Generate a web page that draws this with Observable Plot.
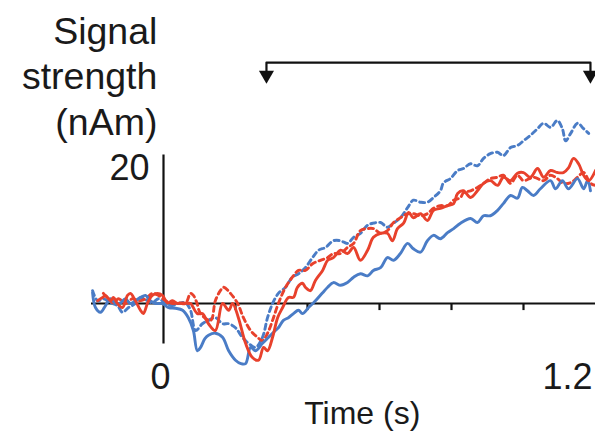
<!DOCTYPE html>
<html>
<head>
<meta charset="utf-8">
<script src="https://cdn.jsdelivr.net/npm/d3@7"></script>
<script src="https://cdn.jsdelivr.net/npm/@observablehq/plot@0.6"></script>
<style>
  html, body { margin: 0; padding: 0; background: #fff; }
  #chart svg { display: block; }
</style>
</head>
<body>
<div id="chart"></div>
<script>
// ---- Data (time in ms, signal strength in nAm) ----
const blueSolid = [[-197,1.6],[-189,-0.6],[-175,-1.3],[-161,-0.3],[-147,0.7],[-133,0],[-119,0.1],[-106,0.7],[-92,0],[-78,0.4],[-64,0.9],[-50,1.2],[-36,0.4],[-22,0],[-3,0],[14,-0.6],[33,-0.7],[53,-1.0],[69,-2.1],[83,-4.0],[94,-7.0],[103,-6.5],[115,-5.2],[125,-4.7],[144,-4.4],[164,-5.0],[181,-7.0],[200,-8.4],[215,-8.9],[228,-8.9],[242,-6.5],[256,-7.0],[275,-5.9],[292,-5.0],[311,-4.0],[319,-3.6],[333,-2.5],[347,-2.1],[361,-1.5],[375,-1.0],[386,-1.5],[403,-0.6],[422,0.4],[442,1.6],[456,2.4],[472,3.1],[492,2.7],[511,3.1],[528,3.9],[547,4.4],[567,4.1],[583,4.9],[603,5.3],[622,6.8],[639,6.4],[658,7.4],[678,8.9],[694,8.1],[714,7.6],[733,9.3],[750,10.1],[769,9.6],[789,10.5],[806,11.1],[825,11.9],[853,12.6],[872,12.0],[889,13.0],[908,13.0],[928,13.8],[944,14.8],[964,16.0],[983,15.6],[997,17.2],[1011,16.7],[1028,16.0],[1047,17.0],[1075,18.2],[1089,17.0],[1108,18.2],[1125,17.0],[1150,18.5],[1167,17.0],[1178,18.2],[1186,16.7]];

const redSolid = [[-183,0.4],[-169,0.9],[-161,1.2],[-147,0.4],[-139,0.9],[-128,0],[-114,-0.6],[-100,1.2],[-92,1.5],[-78,0.4],[-64,-1.0],[-56,-1.5],[-44,0.1],[-31,1.2],[-17,1.5],[-3,1.2],[11,0.1],[25,0.4],[39,0],[53,0.1],[67,0],[75,0],[94,-1.5],[108,-1.5],[125,-3.0],[144,-4.0],[164,0],[181,-1.0],[192,0],[208,-2.1],[228,-5.9],[247,-8.0],[264,-8.4],[278,-6.5],[289,-7.0],[303,-5.0],[317,-2.1],[331,-0.6],[347,0.9],[361,0.9],[372,2.4],[386,3.0],[394,2.4],[408,1.9],[422,3.4],[442,4.9],[456,6.4],[472,6.8],[492,7.9],[511,7.4],[528,8.3],[547,6.4],[567,7.9],[583,9.8],[603,10.4],[622,10.4],[636,9.3],[650,11.1],[667,11.9],[681,13.5],[694,12.7],[714,13.3],[733,12.3],[750,13.8],[769,14.1],[789,14.5],[806,14.8],[817,16.3],[833,16.7],[853,15.7],[872,16.7],[889,17.8],[908,18.2],[928,17.5],[944,18.7],[964,18.2],[983,19.3],[1000,19.4],[1019,18.7],[1039,20.0],[1056,18.7],[1075,19.7],[1094,19.4],[1111,19.4],[1125,20.1],[1139,21.5],[1153,20.7],[1167,19.0],[1181,18.2],[1200,19.7]];

const blueDashed = [[-197,1.9],[-183,0.4],[-167,0.7],[-147,0.1],[-128,-0.3],[-114,-1.3],[-97,-0.6],[-78,0],[-64,0.9],[-44,0.4],[-31,0.1],[-14,0.7],[6,0],[25,-0.3],[42,0],[61,0.1],[75,-1.0],[89,-4.0],[108,-3.0],[125,-2.5],[144,-2.1],[164,-3.0],[181,-3.0],[200,-3.6],[219,-5.0],[236,-5.9],[256,-6.5],[275,-5.0],[289,-2.1],[303,0],[319,1.5],[339,2.4],[358,3.9],[375,4.4],[394,5.3],[414,6.8],[431,7.9],[450,8.3],[472,9.3],[492,9.3],[511,8.9],[528,9.8],[547,10.4],[567,11.6],[583,11.9],[603,12.0],[622,11.3],[639,11.9],[658,12.7],[678,14.2],[694,15.3],[714,15.0],[733,15.0],[750,15.7],[769,16.7],[778,17.9],[797,18.5],[817,19.7],[833,20.0],[853,20.7],[872,20.4],[889,21.5],[908,22.2],[928,22.4],[944,21.9],[964,23.1],[983,23.4],[1000,24.1],[1019,24.9],[1039,25.9],[1056,26.7],[1075,26.1],[1094,27.1],[1108,25.9],[1117,24.1],[1131,25.2],[1150,26.7],[1167,25.9],[1181,25.2]];

const redDashed = [[-167,1.5],[-153,0.7],[-139,0.1],[-125,0.7],[-106,0],[-86,0.7],[-69,0.4],[-50,0.7],[-31,1.5],[-14,1.2],[6,0.4],[25,0],[42,0.1],[61,0],[75,1.5],[83,1.2],[92,0.2],[103,-1.5],[131,-2.5],[144,0.4],[158,1.9],[167,2.4],[186,1.5],[206,0],[222,-2.1],[242,-4.0],[261,-5.0],[275,-5.5],[289,-4.4],[303,-2.5],[319,0],[339,2.4],[358,3.9],[375,4.9],[394,4.9],[414,5.9],[436,6.4],[456,6.8],[472,7.4],[492,7.4],[511,8.3],[528,8.9],[547,10.8],[567,11.1],[583,11.1],[603,10.4],[622,10.8],[639,12.0],[658,12.7],[678,13.3],[694,13.3],[714,13.0],[733,13.3],[750,14.1],[769,14.5],[789,14.5],[806,15.3],[825,15.7],[833,16.4],[853,16.7],[872,17.2],[889,17.8],[908,18.5],[928,18.7],[944,19.0],[964,17.8],[983,19.0],[1000,18.2],[1028,18.7],[1056,18.2],[1075,19.0],[1094,18.5],[1111,17.8],[1131,17.9],[1150,18.7],[1167,19.4],[1186,17.8],[1200,17.5]];

const xTicks = [200, 400, 600, 800, 1000];           // ms
const xTickLabels = ["0", "1.2"];
const yTickLabels = ["20"];
const yTickValues = [20];
const bracketWindow = [286, 1186];                    // ms
const yLabel = "Signal\nstrength\n(nAm)";
const xLabel = "Time (s)";

// ---- Build ----
const BLUE = "#4a7cc6", RED = "#e8412c";
const series = [
  {data: blueDashed, color: BLUE, dash: "5,4"},
  {data: redDashed,  color: RED,  dash: "5,4"},
  {data: blueSolid,  color: BLUE, dash: null},
  {data: redSolid,   color: RED,  dash: null}
];
const font = "'Liberation Sans', Arial, Helvetica, sans-serif";

const lineMarks = series.map(s => Plot.line(s.data, {
  x: d => d[0], y: d => d[1], stroke: s.color, strokeWidth: 2.9,
  strokeDasharray: s.dash, curve: "catmull-rom", strokeLinejoin: "round"
}));

const bracketPath = [
  [bracketWindow[0], 34.4], [bracketWindow[0], 35.7],
  [bracketWindow[1], 35.7], [bracketWindow[1], 34.4]
];

const chart = Plot.plot({
  width: 595, height: 442,
  marginLeft: 91, marginRight: 0, marginTop: 114, marginBottom: 58,
  x: {domain: [-200, 1200], axis: null},
  y: {domain: [-12, 28], axis: null},
  style: {fontFamily: font, fontSize: "36px", color: "#1a1a1a", background: "#fff", overflow: "visible"},
  marks: [
    // zero line and y axis
    Plot.ruleY([0], {stroke: "#111", strokeWidth: 2.2}),
    Plot.ruleX([0], {y1: -6, y2: 22, stroke: "#111", strokeWidth: 2.2}),
    Plot.ruleX(xTicks, {x: d => d, y1: 0, y2: -1.05, stroke: "#111", strokeWidth: 2.2}),
    ...lineMarks,
    // bracket with arrows
    Plot.line(bracketPath, {x: d => d[0], y: d => d[1], stroke: "#111", strokeWidth: 2.2}),
    Plot.dot(bracketWindow, {x: d => d, y: 33.85, symbol: "triangle", r: 5.6, rotate: 180, fill: "#111", stroke: "none"}),
    // tick labels
    Plot.text(yTickLabels, {x: 0, y: (d, i) => yTickValues[i], text: d => d, textAnchor: "end", dx: -14, fontSize: 36, fill: "#1a1a1a"}),
    Plot.text([xTickLabels[0]], {x: 0, y: -11, text: d => d, dx: -3, fontSize: 36, fill: "#1a1a1a"}),
    Plot.text([xTickLabels[1]], {x: 1200, y: -11, text: d => d, textAnchor: "end", dx: -3, fontSize: 36, fill: "#1a1a1a"}),
    // axis titles
    Plot.text([xLabel], {x: 552, y: -16.4, text: d => d, fontSize: 32, fill: "#1a1a1a"}),
    Plot.text([yLabel], {x: -17, y: 33.9, text: d => d, textAnchor: "end", lineAnchor: "middle", lineHeight: 1.22, fontSize: 37.5, fill: "#1a1a1a"})
  ]
});
document.getElementById("chart").appendChild(chart);
</script>
</body>
</html>
